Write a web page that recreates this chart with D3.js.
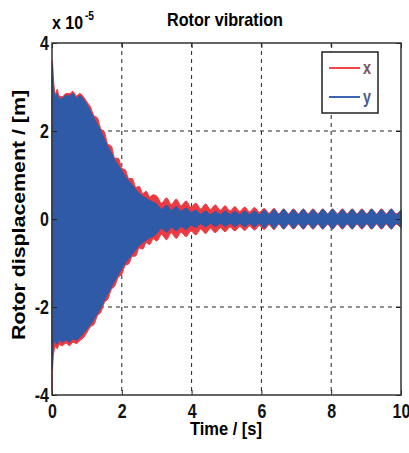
<!DOCTYPE html>
<html>
<head>
<meta charset="utf-8">
<script src="https://cdn.jsdelivr.net/npm/d3@7"></script>
<style>
  body { margin: 0; background: #fff; }
  svg { display: block; }
  text { font-family: "Liberation Sans", Arial, sans-serif; font-weight: bold; }
</style>
</head>
<body>
<svg id="chart"></svg>
<script>
// envelope samples of the two displacement signals (units of 1e-5 m)
const time = [0, 0.01, 0.03, 0.06, 0.1, 0.15, 0.2, 0.3, 0.4, 0.5, 0.6, 0.7, 0.8, 0.9,
  1.0, 1.1, 1.2, 1.3, 1.4, 1.5, 1.6, 1.7, 1.8, 1.9, 2.0, 2.1, 2.2, 2.3, 2.4, 2.5, 2.6, 2.7, 2.8, 2.9,
  3.0, 3.14, 3.28, 3.42, 3.56, 3.7, 3.84, 3.98, 4.12, 4.26, 4.4, 4.54, 4.68, 4.82, 4.96,
  5.1, 5.24, 5.38, 5.52, 5.66, 5.8, 5.94, 6.08, 6.22, 6.36, 6.5, 6.64, 6.78, 6.92,
  7.06, 7.2, 7.34, 7.48, 7.62, 7.76, 7.9, 8.04, 8.18, 8.32, 8.46, 8.6, 8.74, 8.88,
  9.02, 9.16, 9.3, 9.44, 9.58, 9.72, 9.86, 10.0];

const xUpper = [3.2, 3.6, 3.3, 3.0, 2.85, 2.95, 2.8, 2.78, 2.85, 2.85, 2.9, 2.8, 2.85, 2.78,
  2.66, 2.55, 2.35, 2.3, 2.05, 1.98, 1.7, 1.66, 1.38, 1.38, 1.15, 1.12, 0.92, 0.92, 0.72, 0.74, 0.58, 0.63, 0.5, 0.55,
  0.52, 0.36, 0.48, 0.33, 0.45, 0.3, 0.41, 0.27, 0.36, 0.23, 0.34, 0.22, 0.32, 0.2, 0.3,
  0.18, 0.28, 0.17, 0.27, 0.16, 0.26, 0.15, 0.24, 0.13, 0.24, 0.12, 0.23, 0.12, 0.23,
  0.12, 0.23, 0.12, 0.23, 0.12, 0.23, 0.12, 0.23, 0.12, 0.23, 0.12, 0.23, 0.12, 0.23,
  0.12, 0.23, 0.12, 0.23, 0.12, 0.23, 0.12, 0.21];
const xLower = [-3.9, -3.6, -3.2, -3.0, -2.9, -2.95, -2.85, -2.88, -2.82, -2.88, -2.8, -2.83, -2.76, -2.7,
  -2.58, -2.45, -2.4, -2.2, -2.12, -1.9, -1.82, -1.6, -1.52, -1.32, -1.26, -1.05, -1.02, -0.85, -0.84, -0.66, -0.68, -0.54, -0.58, -0.45,
  -0.5, -0.35, -0.47, -0.32, -0.44, -0.3, -0.4, -0.27, -0.36, -0.23, -0.33, -0.21, -0.31, -0.2, -0.29,
  -0.18, -0.27, -0.17, -0.26, -0.16, -0.25, -0.15, -0.24, -0.13, -0.24, -0.12, -0.23, -0.12, -0.23,
  -0.12, -0.23, -0.12, -0.23, -0.12, -0.23, -0.12, -0.23, -0.12, -0.23, -0.12, -0.23, -0.12, -0.23,
  -0.12, -0.23, -0.12, -0.23, -0.12, -0.23, -0.12, -0.21];
const yUpper = [3.0, 3.5, 3.2, 2.9, 2.8, 2.85, 2.72, 2.75, 2.8, 2.8, 2.85, 2.75, 2.8, 2.72,
  2.6, 2.45, 2.3, 2.15, 2.0, 1.82, 1.65, 1.5, 1.34, 1.22, 1.1, 0.97, 0.87, 0.77, 0.67, 0.58, 0.52, 0.47, 0.42, 0.38,
  0.34, 0.22, 0.31, 0.2, 0.28, 0.18, 0.25, 0.15, 0.2, 0.11, 0.18, 0.1, 0.17, 0.1, 0.18,
  0.1, 0.17, 0.1, 0.18, 0.1, 0.18, 0.1, 0.2, 0.1, 0.21, 0.1, 0.22, 0.1, 0.21,
  0.1, 0.22, 0.1, 0.21, 0.1, 0.22, 0.11, 0.22, 0.1, 0.21, 0.1, 0.22, 0.1, 0.21,
  0.1, 0.22, 0.1, 0.21, 0.1, 0.22, 0.1, 0.2];
const yLower = [-3.4, -3.3, -2.95, -2.82, -2.78, -2.85, -2.75, -2.8, -2.75, -2.8, -2.72, -2.75, -2.68, -2.6,
  -2.5, -2.4, -2.28, -2.15, -2.02, -1.85, -1.7, -1.55, -1.4, -1.27, -1.13, -1.0, -0.9, -0.8, -0.7, -0.6, -0.54, -0.48, -0.43, -0.39,
  -0.33, -0.21, -0.3, -0.19, -0.27, -0.17, -0.24, -0.14, -0.19, -0.11, -0.18, -0.1, -0.17, -0.1, -0.17,
  -0.1, -0.17, -0.1, -0.18, -0.1, -0.18, -0.1, -0.2, -0.1, -0.21, -0.1, -0.22, -0.1, -0.21,
  -0.1, -0.22, -0.1, -0.21, -0.1, -0.22, -0.11, -0.22, -0.1, -0.21, -0.1, -0.22, -0.1, -0.21,
  -0.1, -0.22, -0.1, -0.21, -0.1, -0.22, -0.1, -0.2];

const xTicks = [0, 2, 4, 6, 8, 10];
const yTicks = [-4, -2, 0, 2, 4];
const xGrid = [2, 4, 6, 8];
const yGrid = [-2, 0, 2];

const width = 409, height = 453;
const margin = { top: 43, right: 8, bottom: 58, left: 52 };
const plotW = width - margin.left - margin.right;
const plotH = height - margin.top - margin.bottom;

// squeeze text horizontally to mimic the condensed bold face of the original
function narrow(sel, k = 0.8) {
  sel.each(function () {
    const w = this.getComputedTextLength();
    d3.select(this).attr("textLength", w * k).attr("lengthAdjust", "spacingAndGlyphs");
  });
}

const svg = d3.select("#chart").attr("width", width).attr("height", height);
const g = svg.append("g").attr("transform", `translate(${margin.left},${margin.top})`);

const xScale = d3.scaleLinear().domain([0, 10]).range([0, plotW]);
const yScale = d3.scaleLinear().domain([-4, 4]).range([plotH, 0]);

// grid
g.append("g").selectAll("line").data(xGrid).join("line")
  .attr("x1", d => xScale(d)).attr("x2", d => xScale(d))
  .attr("y1", 0).attr("y2", plotH)
  .attr("stroke", "#222").attr("stroke-dasharray", "4,4");
g.append("g").selectAll("line").data(yGrid).join("line")
  .attr("y1", d => yScale(d)).attr("y2", d => yScale(d))
  .attr("x1", 0).attr("x2", plotW)
  .attr("stroke", "#222").attr("stroke-dasharray", "4,4");

// signal envelopes
const rows = time.map((t, i) => ({ t, xu: xUpper[i], xl: xLower[i], yu: yUpper[i], yl: yLower[i] }));
const areaX = d3.area().curve(d3.curveMonotoneX)
  .x(d => xScale(d.t)).y0(d => yScale(d.xl)).y1(d => yScale(d.xu));
const areaY = d3.area().curve(d3.curveMonotoneX)
  .x(d => xScale(d.t)).y0(d => yScale(d.yl)).y1(d => yScale(d.yu));
g.append("path").datum(rows).attr("d", areaX).attr("fill", "#ec3a42")
  .attr("stroke", "#ec3a42").attr("stroke-width", 1);
g.append("path").datum(rows).attr("d", areaY).attr("fill", "#2f5aa8")
  .attr("stroke", "#2f5aa8").attr("stroke-width", 1);

// axes
const xAxis = g.append("g").attr("transform", `translate(0,${plotH})`)
  .call(d3.axisBottom(xScale).tickValues(xTicks).tickFormat(d => String(d))
    .tickSizeInner(-5).tickSizeOuter(0).tickPadding(9));
const yAxis = g.append("g")
  .call(d3.axisLeft(yScale).tickValues(yTicks).tickFormat(d => String(d))
    .tickSizeInner(-5).tickSizeOuter(0).tickPadding(3));
g.append("g").call(d3.axisTop(xScale).tickValues(xTicks).tickSizeInner(-5).tickSizeOuter(0).tickFormat(""));
g.append("g").attr("transform", `translate(${plotW},0)`)
  .call(d3.axisRight(yScale).tickValues(yTicks).tickSizeInner(-5).tickSizeOuter(0).tickFormat(""));
g.selectAll(".domain").remove();
g.selectAll(".tick line").attr("stroke", "#222");
[xAxis, yAxis].forEach(a => a.selectAll("text")
  .attr("font-family", null).attr("font-size", 20).attr("fill", "#111").call(narrow));

g.append("rect").attr("width", plotW).attr("height", plotH)
  .attr("fill", "none").attr("stroke", "#333").attr("stroke-width", 1.5);

// title and labels
svg.append("text").attr("x", 225).attr("y", 26).attr("text-anchor", "middle")
  .attr("font-size", 19).attr("textLength", 116).attr("lengthAdjust", "spacingAndGlyphs")
  .text("Rotor vibration");
svg.append("text").attr("x", 52).attr("y", 29).attr("font-size", 18)
  .attr("textLength", 31).attr("lengthAdjust", "spacingAndGlyphs").text("x 10");
svg.append("text").attr("x", 85).attr("y", 20).attr("font-size", 12)
  .attr("textLength", 9).attr("lengthAdjust", "spacingAndGlyphs").text("-5");
svg.append("text").attr("x", 226).attr("y", 435).attr("text-anchor", "middle")
  .attr("font-size", 19).attr("textLength", 72).attr("lengthAdjust", "spacingAndGlyphs")
  .text("Time / [s]");
svg.append("text").attr("transform", "translate(25,215) rotate(-90)")
  .attr("text-anchor", "middle").attr("font-size", 18)
  .attr("textLength", 250).attr("lengthAdjust", "spacingAndGlyphs")
  .text("Rotor displacement / [m]");

// legend
const legend = svg.append("g").attr("transform", "translate(322,52)");
legend.append("rect").attr("width", 56).attr("height", 61)
  .attr("fill", "#fff").attr("stroke", "#222").attr("stroke-width", 1.5);
const legendItems = [{ name: "x", color: "#f04848", text: "#7a5560" }, { name: "y", color: "#3c64b4", text: "#4a5a8a" }];
legendItems.forEach((d, i) => {
  const row = legend.append("g").attr("transform", `translate(0,${16 + i * 29})`);
  row.append("line").attr("x1", 7).attr("x2", 38).attr("stroke", d.color).attr("stroke-width", 2);
  row.append("text").attr("x", 41).attr("y", 6)
    .attr("font-size", 18).attr("fill", d.text).text(d.name).call(narrow);
});
</script>
</body>
</html>
